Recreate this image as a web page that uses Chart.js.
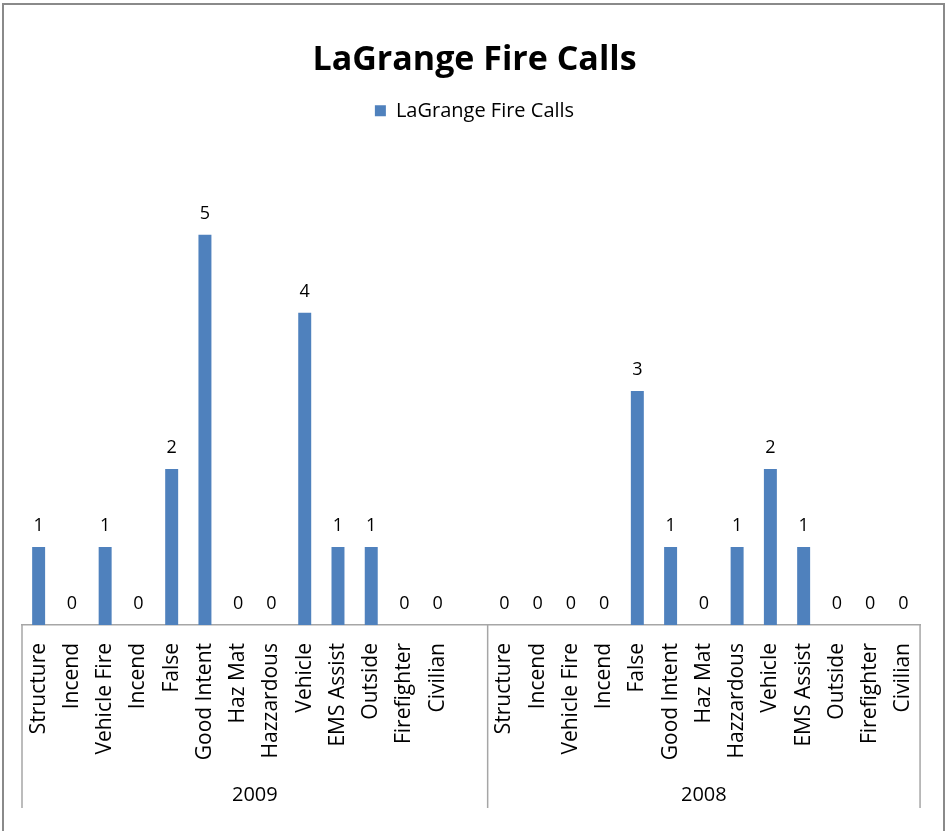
<!DOCTYPE html>
<html>
<head>
<meta charset="utf-8">
<title>LaGrange Fire Calls</title>
<script src="https://cdn.jsdelivr.net/npm/chart.js@4.4.1/dist/chart.umd.min.js"></script>
<style>
  html, body { margin: 0; padding: 0; background: #fff; }
  #wrap { position: relative; width: 947px; height: 831px; }
</style>
</head>
<body>
<div id="wrap"><canvas id="fireChart"></canvas></div>
<script>
// Data
const years = ['2009', '2008'];
// 2009 has one blank row at the end in the source sheet
const categories2009 = ['Structure', 'Incend', 'Vehicle Fire', 'Incend', 'False', 'Good Intent', 'Haz Mat', 'Hazzardous', 'Vehicle', 'EMS Assist', 'Outside', 'Firefighter', 'Civilian', ''];
const values2009 = [1, 0, 1, 0, 2, 5, 0, 0, 4, 1, 1, 0, 0, null];
const categories2008 = ['Structure', 'Incend', 'Vehicle Fire', 'Incend', 'False', 'Good Intent', 'Haz Mat', 'Hazzardous', 'Vehicle', 'EMS Assist', 'Outside', 'Firefighter', 'Civilian'];
const values2008 = [0, 0, 0, 0, 3, 1, 0, 1, 2, 1, 0, 0, 0];
const seriesName = 'LaGrange Fire Calls';

const labels = categories2009.concat(categories2008);
const values = values2009.concat(values2008);
const groupSizes = [categories2009.length, categories2008.length];

const FONT = '"Open Sans", "DejaVu Sans", sans-serif';
const LINE = '#a6a6a6';

// Value labels above each bar
const barLabels = {
    id: 'barLabels',
    afterDatasetsDraw(chart) {
        const ctx = chart.ctx;
        const meta = chart.getDatasetMeta(0);
        ctx.save();
        ctx.font = '18px ' + FONT;
        ctx.fillStyle = '#000';
        ctx.textAlign = 'center';
        ctx.textBaseline = 'middle';
        meta.data.forEach((bar, i) => {
            const v = values[i];
            if (v === null) return;
            ctx.fillText(String(v), bar.x, bar.y - 21);
        });
        ctx.restore();
    }
};

// Second axis level: year separators and labels
const yearAxis = {
    id: 'yearAxis',
    afterDraw(chart) {
        const ctx = chart.ctx;
        const x = chart.scales.x;
        const top = chart.chartArea.bottom;
        const bottom = x.bottom;
        ctx.save();
        ctx.strokeStyle = LINE;
        ctx.lineWidth = 1.5;
        let start = 0;
        const edges = [x.getPixelForValue(-0.5)];
        groupSizes.forEach(n => {
            start += n;
            edges.push(x.getPixelForValue(start - 0.5));
        });
        edges.forEach(px => {
            ctx.beginPath();
            ctx.moveTo(px, top);
            ctx.lineTo(px, bottom);
            ctx.stroke();
        });
        ctx.font = '20px ' + FONT;
        ctx.fillStyle = '#000';
        ctx.textAlign = 'center';
        ctx.textBaseline = 'middle';
        years.forEach((yr, i) => {
            ctx.fillText(yr, (edges[i] + edges[i + 1]) / 2, bottom - 13);
        });
        ctx.restore();
    }
};

// Outer chart frame (open at the bottom, like the cropped source)
const frame = {
    id: 'frame',
    beforeDraw(chart) {
        const ctx = chart.ctx;
        ctx.save();
        ctx.strokeStyle = '#8a8a8a';
        ctx.lineWidth = 2;
        ctx.beginPath();
        ctx.moveTo(3, chart.height);
        ctx.lineTo(3, 4);
        ctx.lineTo(944, 4);
        ctx.lineTo(944, chart.height);
        ctx.stroke();
        ctx.restore();
    }
};

// Extra room between legend and plot area
const legendGap = {
    id: 'legendGap',
    beforeInit(chart) {
        const legend = chart.legend;
        if (!legend) return;
        const fit = legend.fit;
        legend.fit = function () {
            fit.call(this);
            this.height += 26;
        };
    }
};

new Chart(document.getElementById('fireChart'), {
    type: 'bar',
    data: {
        labels: labels,
        datasets: [{
            label: seriesName,
            data: values,
            backgroundColor: '#4f81bd',
            barPercentage: 0.39,
            categoryPercentage: 1.0
        }]
    },
    options: {
        responsive: true,
        maintainAspectRatio: false,
        animation: false,
        layout: { padding: { left: 22, right: 20, top: 0, bottom: 23 } },
        plugins: {
            title: {
                display: true,
                text: 'LaGrange Fire Calls',
                color: '#000',
                font: { family: FONT, size: 34, weight: 'bold', lineHeight: 1.2 },
                padding: { top: 40, bottom: 10 }
            },
            legend: {
                display: true,
                labels: {
                    color: '#000',
                    font: { family: FONT, size: 20 },
                    boxWidth: 11,
                    boxHeight: 11,
                    padding: 10
                }
            },
            tooltip: { enabled: false }
        },
        scales: {
            x: {
                grid: { display: false, drawTicks: false },
                border: { display: true, color: LINE, width: 1.5 },
                ticks: {
                    autoSkip: false,
                    maxRotation: 90,
                    minRotation: 90,
                    padding: 18,
                    color: '#000',
                    font: { family: FONT, size: 21 }
                },
                afterFit(scale) {
                    scale.height = 183;
                }
            },
            y: {
                display: false,
                min: 0,
                max: 6
            }
        }
    },
    plugins: [legendGap, frame, barLabels, yearAxis]
});
</script>
</body>
</html>
